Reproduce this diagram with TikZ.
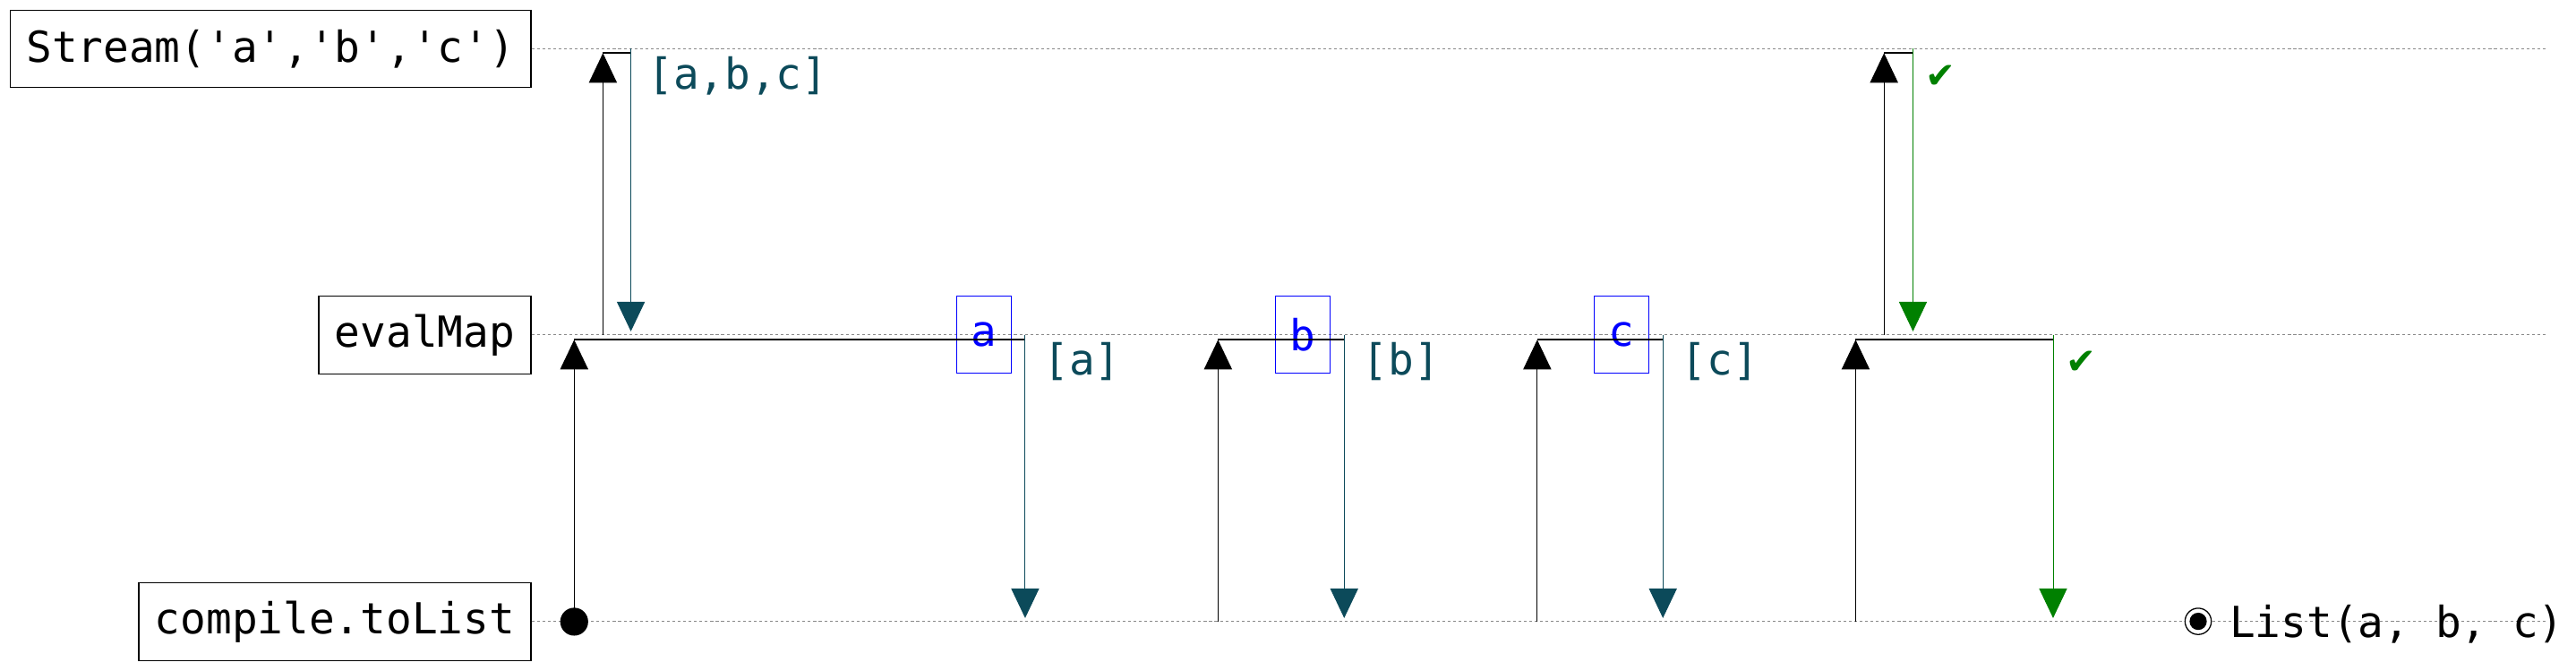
\documentclass[tikz,border=0pt]{standalone}
\usepackage{fontspec}
\setmonofont{DejaVu Sans Mono}
\newfontfamily\symfont{DejaVu Sans}
\usetikzlibrary{arrows.meta}
\definecolor{retcol}{RGB}{12,74,90}
\definecolor{okgreen}{RGB}{0,128,0}
\definecolor{lifecol}{RGB}{136,136,136}
\tikzset{
  monofont/.style={font=\fontsize{26}{30}\selectfont\ttfamily},
  obj/.style={monofont, draw=black, line width=0.6pt, minimum height=47pt,
    inner xsep=9.8pt, inner ysep=0pt, anchor=east},
  valbox/.style={monofont, draw=blue, line width=0.5pt, text=blue,
    minimum height=47pt, minimum width=33.5pt, inner sep=0pt},
  lifeline/.style={lifecol, line width=0.55pt, dash pattern=on 1.7pt off 1.6pt},
  tri/.style={-{Triangle[width=17pt,length=18pt]}},
  callarrow/.style={black, line width=0.6pt, tri},
  calllink/.style={black, line width=1.1pt},
  retarrow/.style={retcol, line width=0.55pt, tri},
  okarrow/.style={okgreen, line width=0.55pt, tri},
  retlabel/.style={monofont, text=retcol, anchor=base west, inner sep=0pt},
  oklabel/.style={font=\symfont\fontsize{22}{26}\selectfont, text=okgreen, anchor=base west, inner sep=0pt},
  startdot/.style={circle, fill=black, minimum size=17pt, inner sep=0pt},
}
\begin{document}
\begin{tikzpicture}[x=1pt,y=-1pt]
\useasboundingbox (0,0) rectangle (1568,407.7);
% participants
\node[obj] (stream) at (323.5,29.6) {Stream('a','b','c')};
\node[obj] (evalmap) at (323.5,203.8) {evalMap};
\node[obj] (tolist) at (323.5,378.2) {compile.toList};
% lifelines
\coordinate (s-end) at (1550,29.6);
\coordinate (e-end) at (1550,203.8);
\coordinate (t-end) at (1550,378.2);
\draw[lifeline] (stream.east) -- (s-end);
\draw[lifeline] (evalmap.east) -- (e-end);
\draw[lifeline] (tolist.east) -- (t-end);
% value boxes
\node[valbox] (va) at (599,203.5) {a};
\node[valbox] (vb) at (793,203.5) {b};
\node[valbox] (vc) at (987,203.5) {c};
% start dot
\node[startdot] (dot) at (349.5,378.2) {};
% ---- call A: toList -> evalMap
\coordinate (a-tip) at (349.5,206.7);
\coordinate (a-turn) at (624,206.7);
\coordinate (a-rs) at (624,203.8);
\coordinate (a-re) at (624,376);
\draw[callarrow] (dot.center) -- (a-tip);
% nested: evalMap -> Stream
\coordinate (n1-s) at (367,203.8);
\coordinate (n1-tip) at (367,32.3);
\coordinate (n1-turn) at (384,32.3);
\coordinate (n1-rs) at (384,29.6);
\coordinate (n1-re) at (384,201.6);
\draw[callarrow] (n1-s) -- (n1-tip);
\draw[calllink] (n1-tip) -- (n1-turn);
\draw[retarrow] (n1-rs) -- (n1-re);
\node[retlabel] (l-abc) at (394,54.1) {[a,b,c]};
\draw[calllink] (a-tip) -- (a-turn);
\draw[retarrow] (a-rs) -- (a-re);
\node[retlabel] (l-a) at (635,228.3) {[a]};
% ---- call B
\coordinate (b-s) at (741.4,378.2);
\coordinate (b-tip) at (741.4,206.7);
\coordinate (b-turn) at (818.2,206.7);
\coordinate (b-rs) at (818.2,203.8);
\coordinate (b-re) at (818.2,376);
\draw[callarrow] (b-s) -- (b-tip);
\draw[calllink] (b-tip) -- (b-turn);
\draw[retarrow] (b-rs) -- (b-re);
\node[retlabel] (l-b) at (829.2,228.3) {[b]};
% ---- call C
\coordinate (c-s) at (935.7,378.2);
\coordinate (c-tip) at (935.7,206.7);
\coordinate (c-turn) at (1012.2,206.7);
\coordinate (c-rs) at (1012.2,203.8);
\coordinate (c-re) at (1012.2,376);
\draw[callarrow] (c-s) -- (c-tip);
\draw[calllink] (c-tip) -- (c-turn);
\draw[retarrow] (c-rs) -- (c-re);
\node[retlabel] (l-c) at (1023.2,228.3) {[c]};
% ---- call D
\coordinate (d-s) at (1129.5,378.2);
\coordinate (d-tip) at (1129.5,206.7);
\coordinate (d-turn) at (1249.7,206.7);
\coordinate (d-rs) at (1249.7,203.8);
\coordinate (d-re) at (1249.7,376);
\draw[callarrow] (d-s) -- (d-tip);
% nested: evalMap -> Stream
\coordinate (n2-s) at (1146.8,203.8);
\coordinate (n2-tip) at (1146.8,32.3);
\coordinate (n2-turn) at (1164.4,32.3);
\coordinate (n2-rs) at (1164.4,29.6);
\coordinate (n2-re) at (1164.4,201.6);
\draw[callarrow] (n2-s) -- (n2-tip);
\draw[calllink] (n2-tip) -- (n2-turn);
\draw[okarrow] (n2-rs) -- (n2-re);
\node[oklabel] (ok1) at (1172,53.6) {✔};
\draw[calllink] (d-tip) -- (d-turn);
\draw[okarrow] (d-rs) -- (d-re);
\node[oklabel] (ok2) at (1257.5,227.8) {✔};
% ---- result
\node[circle, draw=black, fill=white, line width=0.7pt, minimum size=16pt, inner sep=0pt] (endring) at (1338,378) {};
\node[circle, fill=black, minimum size=10.5pt, inner sep=0pt] (enddot) at (endring.center) {};
\node[monofont, anchor=base west, inner sep=0pt] (result) at (1357,387.7) {List(a, b, c)};
\end{tikzpicture}
\end{document}
